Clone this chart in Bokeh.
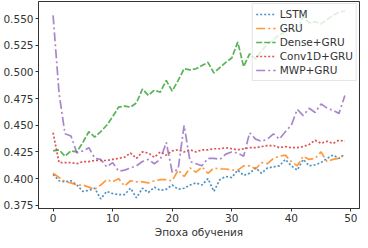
from bokeh.plotting import figure
from bokeh.models import Range1d, FixedTicker, NumeralTickFormatter, Legend, LegendItem
from bokeh.embed import file_html
from bokeh.resources import INLINE

epochs = list(range(50))
lstm = [0.404, 0.398, 0.397, 0.398, 0.394, 0.388, 0.389, 0.391, 0.381, 0.388,
        0.386, 0.385, 0.385, 0.391, 0.382, 0.391, 0.387, 0.392, 0.389, 0.390,
        0.394, 0.390, 0.391, 0.394, 0.396, 0.394, 0.400, 0.388, 0.399, 0.402,
        0.401, 0.408, 0.403, 0.405, 0.410, 0.405, 0.410, 0.411, 0.412, 0.418,
        0.412, 0.408, 0.418, 0.412, 0.413, 0.415, 0.419, 0.422, 0.419, 0.423]
gru = [0.405, 0.401, 0.397, 0.396, 0.394, 0.394, 0.392, 0.390, 0.394, 0.399,
       0.397, 0.400, 0.393, 0.398, 0.397, 0.397, 0.396, 0.398, 0.399, 0.399,
       0.398, 0.408, 0.402, 0.410, 0.406, 0.411, 0.405, 0.410, 0.409, 0.409,
       0.408, 0.408, 0.412, 0.412, 0.409, 0.415, 0.414, 0.419, 0.421, 0.422,
       0.416, 0.412, 0.421, 0.418, 0.419, 0.425, 0.416, 0.418, 0.419, 0.423]
dense = [0.426, 0.427, 0.421, 0.426, 0.425, 0.434, 0.444, 0.439, 0.444, 0.450,
         0.458, 0.467, 0.468, 0.467, 0.471, 0.484, 0.478, 0.483, 0.481, 0.492,
         0.482, 0.492, 0.503, 0.502, 0.503, 0.506, 0.509, 0.499, 0.504, 0.509,
         0.513, 0.528, 0.505, 0.517, 0.512, 0.520, 0.526, 0.530, 0.535, 0.537,
         0.541, 0.538, 0.552, 0.546, 0.547, 0.545, 0.549, 0.553, 0.556, 0.557]
conv = [0.443, 0.415, 0.415, 0.415, 0.414, 0.416, 0.416, 0.417, 0.417, 0.417,
        0.418, 0.419, 0.420, 0.424, 0.419, 0.425, 0.424, 0.420, 0.425, 0.422,
        0.426, 0.427, 0.425, 0.427, 0.425, 0.427, 0.427, 0.428, 0.428, 0.429,
        0.428, 0.427, 0.428, 0.429, 0.429, 0.430, 0.431, 0.431, 0.429, 0.430,
        0.429, 0.429, 0.430, 0.432, 0.436, 0.433, 0.435, 0.433, 0.436, 0.435]
mwp = [0.553, 0.480, 0.442, 0.440, 0.424, 0.426, 0.429, 0.419, 0.418, 0.411,
       0.415, 0.407, 0.408, 0.410, 0.412, 0.416, 0.418, 0.414, 0.418, 0.434,
       0.406, 0.409, 0.450, 0.416, 0.414, 0.412, 0.419, 0.419, 0.418, 0.423,
       0.425, 0.424, 0.421, 0.443, 0.437, 0.435, 0.437, 0.442, 0.437, 0.444,
       0.450, 0.465, 0.459, 0.466, 0.462, 0.470, 0.466, 0.464, 0.461, 0.478]

series_names = ["LSTM", "GRU", "Dense+GRU", "Conv1D+GRU", "MWP+GRU"]
x_ticks = [0, 10, 20, 30, 40, 50]
y_ticks = [0.375, 0.400, 0.425, 0.450, 0.475, 0.500, 0.525, 0.550]
x_label = "Эпоха обучения"

FONT = "DejaVu Sans"
TXT = "#333333"

p = figure(frame_width=321, frame_height=207, output_backend="svg", toolbar_location=None,
           x_range=Range1d(-2.45, 51.45), y_range=Range1d(0.372, 0.566),
           min_border_left=0, min_border_right=1, min_border_top=1,
           min_border_bottom=0)
p.background_fill_color = "white"
p.border_fill_color = "white"
p.xgrid.visible = False
p.ygrid.visible = False
p.outline_line_color = "#333333"
p.outline_line_width = 1

styles = [
    (lstm, "#1f77b4", "2 2"),
    (gru, "#ff7f0e", "9 3 2 3"),
    (dense, "#2ca02c", "6 2"),
    (conv, "#d62728", "2 2"),
    (mwp, "#9467bd", "9 3 2 3"),
]
items = []
for name, (ys, col, dash) in zip(series_names, styles):
    r = p.line(epochs, ys, line_color=col, line_width=1.7, line_dash=dash, line_alpha=0.8)
    items.append(LegendItem(label=name, renderers=[r]))

legend = Legend(items=items, location="top_right", margin=2, padding=3, spacing=0,
                label_text_font=FONT, label_text_font_size="10.5px",
                label_text_color=TXT, label_height=14, glyph_height=14,
                glyph_width=20, label_standoff=4,
                border_line_color="#cccccc", border_line_width=1,
                background_fill_color="white", background_fill_alpha=0.8)
p.add_layout(legend)

for ax in (p.xaxis[0], p.yaxis[0]):
    ax.axis_line_color = "#333333"
    ax.major_tick_line_color = "#333333"
    ax.major_tick_out = 3
    ax.major_tick_in = 0
    ax.minor_tick_line_color = None
    ax.major_label_text_font = FONT
    ax.major_label_text_font_size = "10.5px"
    ax.major_label_text_color = TXT
    ax.major_label_text_line_height = 1.0
    ax.major_label_standoff = 2

p.xaxis[0].ticker = FixedTicker(ticks=x_ticks)
p.yaxis[0].ticker = FixedTicker(ticks=y_ticks)
p.yaxis[0].formatter = NumeralTickFormatter(format="0.000")
p.xaxis[0].axis_label = x_label
p.xaxis[0].axis_label_text_font = FONT
p.xaxis[0].axis_label_text_font_size = "10.5px"
p.xaxis[0].axis_label_text_font_style = "normal"
p.xaxis[0].axis_label_text_color = TXT
p.xaxis[0].axis_label_text_line_height = 1.0
p.xaxis[0].axis_label_standoff = 1

open("out.html", "w").write(file_html(p, INLINE))
